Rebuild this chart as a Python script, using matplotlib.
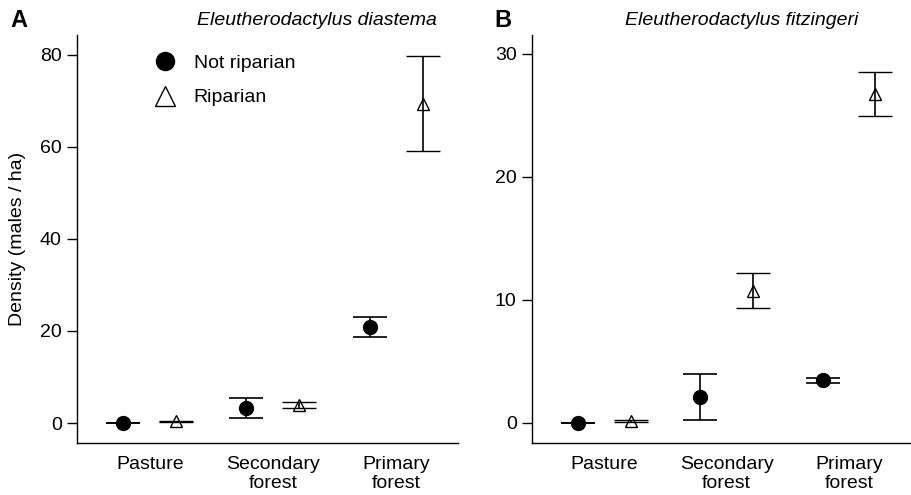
import numpy as np
import matplotlib.pyplot as plt
from matplotlib.lines import Line2D

plt.rcParams['font.family'] = 'Liberation Sans'

habitats = ['Pasture', 'Secondary\nforest', 'Primary\nforest']

# Eleutherodactylus diastema
diast_notrip = [0.0, 3.2, 20.9]
diast_notrip_se = [0.0, 2.2, 2.15]
diast_rip = [0.35, 3.9, 69.4]
diast_rip_se = [0.1, 0.65, 10.3]

# Eleutherodactylus fitzingeri
fitz_notrip = [0.0, 2.1, 3.45]
fitz_notrip_se = [0.0, 1.85, 0.2]
fitz_rip = [0.15, 10.75, 26.7]
fitz_rip_se = [0.05, 1.45, 1.8]

fig = plt.figure(figsize=(9.11, 4.95), dpi=100)
ax1 = fig.add_axes([0.0845, 0.105, 0.418, 0.824])
ax2 = fig.add_axes([0.584, 0.105, 0.415, 0.824])

x = np.arange(1, 4)
off = 0.215


def draw(ax, nr, nr_se, r, r_se):
    ax.errorbar(x - off, nr, yerr=nr_se, fmt='o', color='black', ms=10,
                elinewidth=1.2, capsize=12, capthick=1.2)
    ax.errorbar(x + off, r, yerr=r_se, fmt='^', color='black', ms=8,
                mfc='none', mec='black', mew=1.0,
                elinewidth=1.2, capsize=12, capthick=1.2)
    ax.spines['top'].set_visible(False)
    ax.spines['right'].set_visible(False)
    ax.spines['left'].set_linewidth(1.0)
    ax.spines['bottom'].set_linewidth(1.0)
    ax.set_xlim(0.41, 3.5)
    ax.set_xticks(x)
    ax.set_xticklabels(habitats, fontsize=14, linespacing=1.22)
    ax.tick_params(axis='x', length=0, pad=9)
    ax.tick_params(axis='y', length=7, width=1.0, labelsize=14, pad=4)


draw(ax1, diast_notrip, diast_notrip_se, diast_rip, diast_rip_se)
ax1.set_ylim(-4.35, 84.3)
ax1.set_yticks([0, 20, 40, 60, 80])
ax1.set_ylabel('Density (males / ha)', fontsize=14, labelpad=10)

draw(ax2, fitz_notrip, fitz_notrip_se, fitz_rip, fitz_rip_se)
ax2.set_ylim(-1.63, 31.5)
ax2.set_yticks([0, 10, 20, 30])

handles = [
    Line2D([], [], ls='none', marker='o', color='black', ms=13),
    Line2D([], [], ls='none', marker='^', mfc='none', mec='black', ms=15, mew=1.0),
]
ax1.legend(handles, ['Not riparian', 'Riparian'], loc='upper left',
           bbox_to_anchor=(0.135, 0.995), frameon=False, fontsize=14,
           handletextpad=0.45, labelspacing=0.85)

fig.text(0.48, 0.958, 'Eleutherodactylus diastema', style='italic',
         fontsize=14, ha='right', va='center')
fig.text(0.942, 0.958, 'Eleutherodactylus fitzingeri', style='italic',
         fontsize=14, ha='right', va='center')
fig.text(0.011, 0.958, 'A', fontweight='bold', fontsize=17, va='center')
fig.text(0.543, 0.958, 'B', fontweight='bold', fontsize=17, va='center')

fig.savefig('out.png', dpi=100)
